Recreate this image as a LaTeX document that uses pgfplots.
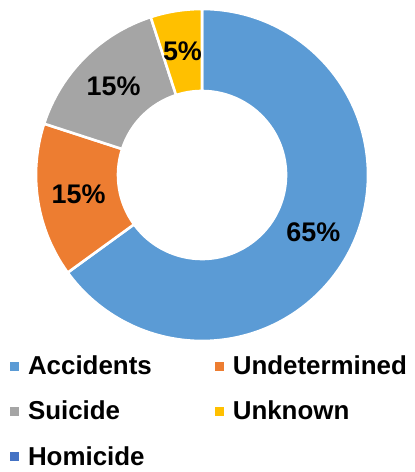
\documentclass[border=0pt]{standalone}
\usepackage{pgfplots}
\usepackage{pgfplotstable}
\pgfplotsset{compat=1.18}
\usepackage{fontspec}
\setmainfont{Liberation Sans}
\definecolor{cacc}{HTML}{5B9BD5}
\definecolor{cund}{HTML}{ED7D31}
\definecolor{csui}{HTML}{A5A5A5}
\definecolor{cunk}{HTML}{FFC000}
\definecolor{chom}{HTML}{4472C4}
\pgfplotstableread{
label value
Accidents 65
Undetermined 15
Suicide 15
Unknown 5
Homicide 0
}\shares
\newcommand\getval[2]{\pgfplotstablegetelem{#1}{value}\of\shares\global\let#2\pgfplotsretval}
\def\ro{166}\def\ri{84}\def\rl{125}
\newcommand\slice[3]{%
  \fill[#1, draw=white, line width=2.6bp, line join=miter]
   (axis cs:{\ro*cos(#2)},{\ro*sin(#2)}) arc[start angle=#2, end angle=#3, radius=\ro bp]
   -- (axis cs:{\ri*cos(#3)},{\ri*sin(#3)}) arc[start angle=#3, end angle=#2, radius=\ri bp] -- cycle;}
\newcommand\slicelabel[3]{%
  \node[font=\fontsize{27}{32}\selectfont\bfseries, inner sep=0pt]
   at (axis cs:{\rl*cos((#1+#2)/2)},{\rl*sin((#1+#2)/2)}) {#3\%};}
\begin{document}
\begin{tikzpicture}
\getval{0}\vA \getval{1}\vB \getval{2}\vC \getval{3}\vD
\pgfmathsetmacro\aA{90}
\pgfmathsetmacro\aB{\aA-3.6*\vA}
\pgfmathsetmacro\aC{\aB-3.6*\vB}
\pgfmathsetmacro\aD{\aC-3.6*\vC}
\pgfmathsetmacro\aE{\aD-3.6*\vD}
\begin{axis}[
  x=1bp, y=1bp,
  xmin=-202, xmax=212, ymin=-297, ymax=175,
  hide axis, clip=false,
  legend columns=2,
  legend cell align=left,
  legend image code/.code={\fill[#1] (0bp,-2.5bp) rectangle (9bp,6.5bp);},
  legend style={at={(axis cs:-192,-181)}, anchor=north west,
    draw=none, fill=none, inner sep=0pt, outer sep=0pt,
    font=\fontsize{26}{30}\selectfont\bfseries,
    nodes={inner sep=0pt, text height=19bp, text depth=6bp},
    row sep=20bp,
    /tikz/every odd column/.append style={column sep=9bp},
    /tikz/every even column/.append style={column sep=63bp}},
]
\path (axis cs:-202,-297) rectangle (axis cs:212,175);
\slice{cacc}{\aA}{\aB}
\slice{cund}{\aB}{\aC}
\slice{csui}{\aC}{\aD}
\slice{cunk}{\aD}{\aE}
\slicelabel{\aA}{\aB}{\vA}
\slicelabel{\aB}{\aC}{\vB}
\slicelabel{\aC}{\aD}{\vC}
\slicelabel{\aD}{\aE}{\vD}
\addlegendimage{fill=cacc, draw=none}\addlegendentry{Accidents}
\addlegendimage{fill=cund, draw=none}\addlegendentry{Undetermined}
\addlegendimage{fill=csui, draw=none}\addlegendentry{Suicide}
\addlegendimage{fill=cunk, draw=none}\addlegendentry{Unknown}
\addlegendimage{fill=chom, draw=none}\addlegendentry{Homicide}
\end{axis}
\end{tikzpicture}
\end{document}
